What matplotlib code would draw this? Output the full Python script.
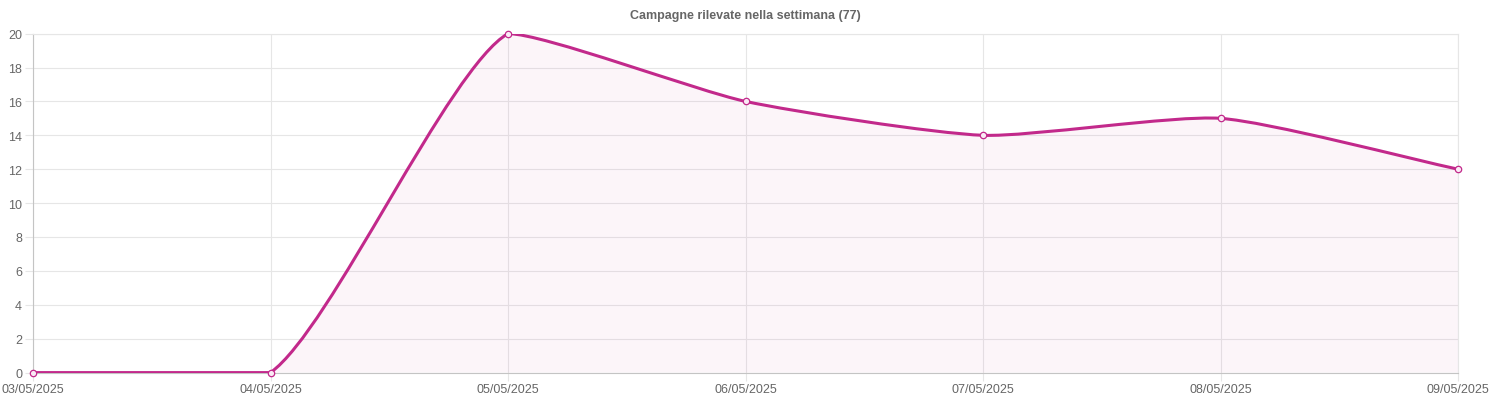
import numpy as np
import matplotlib
matplotlib.use("Agg")
from matplotlib import pyplot as plt
from matplotlib.path import Path
from matplotlib.patches import PathPatch

# data
dates = ["03/05/2025", "04/05/2025", "05/05/2025", "06/05/2025",
         "07/05/2025", "08/05/2025", "09/05/2025"]
values = [0, 0, 20, 16, 14, 15, 12]
yTicks = list(range(0, 21, 2))
title = "Campagne rilevate nella settimana (77)"

lineColor = "#c2298b"
fillColor = (194 / 255, 41 / 255, 139 / 255, 0.045)
gridColor = "#e6e6e6"
zeroColor = "#c4c4c4"
textColor = "#666666"

plt.rcParams["font.family"] = ["Liberation Sans", "DejaVu Sans"]

W, H = 1491, 402
fig = plt.figure(figsize=(W / 100, H / 100), dpi=100)
left, right, top, bottom = 33, 1458, 34.6, 373.6
ax = fig.add_axes([left / W, 1 - bottom / H, (right - left) / W, (bottom - top) / H])

xs = np.arange(len(values))
ax.set_xlim(0, len(values) - 1)
ax.set_ylim(0, 20)

# bezier control points like chart.js, computed in pixel space and capped
# to the chart area
pxX = (right - left) / (len(values) - 1)
pxY = (bottom - top) / 20.0
pts = np.array([[x * pxX, v * pxY] for x, v in zip(xs, values)], dtype=float)
tension = 0.2
n = len(pts)
cpPrev = np.zeros_like(pts)
cpNext = np.zeros_like(pts)
for i in range(n):
    prev = pts[max(i - 1, 0)]
    cur = pts[i]
    nxt = pts[min(i + 1, n - 1)]
    d01 = np.hypot(*(cur - prev))
    d12 = np.hypot(*(nxt - cur))
    tot = d01 + d12
    s01 = d01 / tot if tot else 0
    s12 = d12 / tot if tot else 0
    cpPrev[i] = cur - tension * s01 * (nxt - prev)
    cpNext[i] = cur + tension * s12 * (nxt - prev)
maxX, maxY = pts[-1, 0], 20 * pxY
for cp in (cpPrev, cpNext):
    cp[:, 0] = cp[:, 0].clip(0, maxX)
    cp[:, 1] = cp[:, 1].clip(0, maxY)

def toData(p):
    return (p[0] / pxX, p[1] / pxY)

verts = [toData(pts[0])]
codes = [Path.MOVETO]
for i in range(n - 1):
    verts += [toData(cpNext[i]), toData(cpPrev[i + 1]), toData(pts[i + 1])]
    codes += [Path.CURVE4] * 3

fillVerts = verts + [(xs[-1], 0), (xs[0], 0), verts[0]]
fillCodes = codes + [Path.LINETO, Path.LINETO, Path.CLOSEPOLY]
ax.add_patch(PathPatch(Path(fillVerts, fillCodes), facecolor=fillColor,
                       edgecolor="none", zorder=1))
ax.add_patch(PathPatch(Path(verts, codes), facecolor="none", edgecolor=lineColor,
                       linewidth=2.2, zorder=3, capstyle="round", joinstyle="round"))

# points
ax.plot(xs, values, "o", ms=4.6, mfc=(0.98, 0.92, 0.96), mec=lineColor, mew=0.9,
        zorder=4, clip_on=False)

# grid, ticks, labels
ax.set_xticks(xs)
ax.set_xticklabels(dates)
ax.set_yticks(yTicks)
ax.grid(True, color=gridColor, linewidth=0.8, zorder=0)
ax.set_axisbelow(True)
ax.tick_params(axis="both", length=5.8, width=0.8, color=gridColor,
               labelcolor=textColor, labelsize=9, pad=2)
for side in ("top", "right"):
    ax.spines[side].set_color(gridColor)
    ax.spines[side].set_linewidth(0.8)
for side in ("left", "bottom"):
    ax.spines[side].set_color(zeroColor)
    ax.spines[side].set_linewidth(0.8)

ax.set_title(title, fontsize=9, fontweight="bold", color=textColor, pad=11)

fig.savefig("out.png", dpi=100)
